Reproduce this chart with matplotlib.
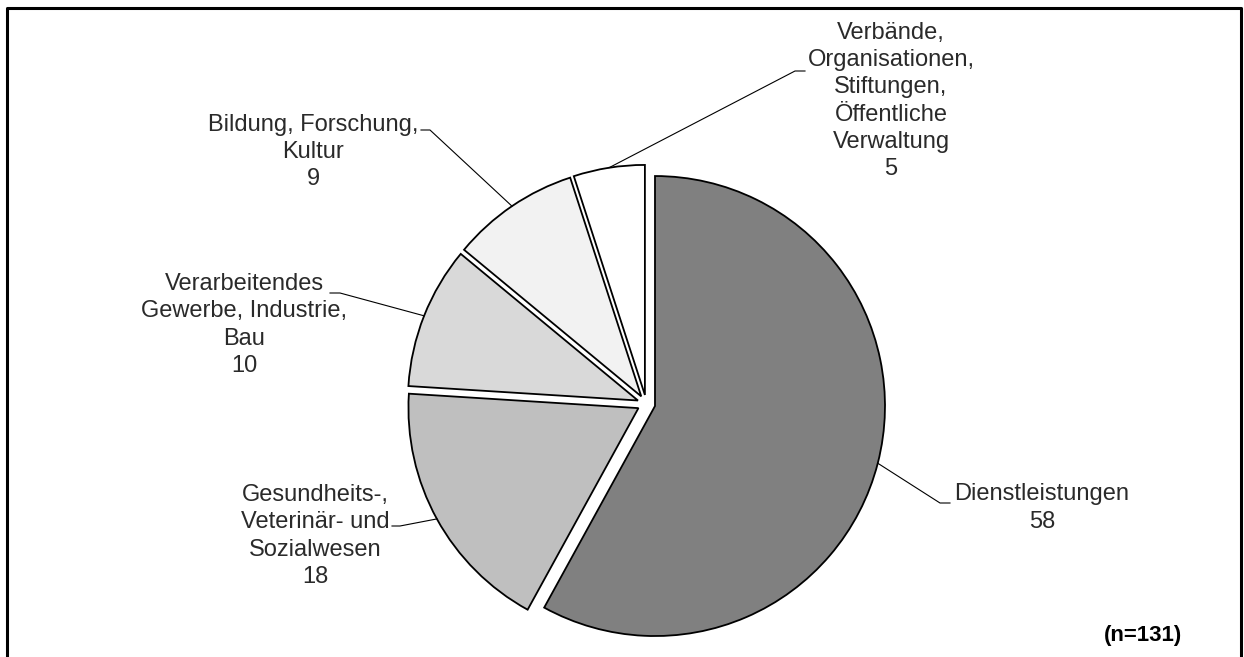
import matplotlib.pyplot as plt
from matplotlib.lines import Line2D
import numpy as np

plt.rcParams['font.family'] = ['Liberation Sans', 'DejaVu Sans']

# Branchenverteilung in Prozent
labels = ['Dienstleistungen',
          'Gesundheits-,\nVeterinär- und\nSozialwesen',
          'Verarbeitendes\nGewerbe, Industrie,\nBau',
          'Bildung, Forschung,\nKultur',
          'Verbände,\nOrganisationen,\nStiftungen,\nÖffentliche\nVerwaltung']
values = [58, 18, 10, 9, 5]
colors = ['#808080', '#bfbfbf', '#d9d9d9', '#f2f2f2', '#ffffff']
n_total = 131

W, H = 1244, 657
R_PX = 230.0            # Radius in Pixel
CX, CY = 646.3, 403.8   # Kreismittelpunkt in Pixel (y von oben)


def px2d(px, py):
    return (px - CX) / R_PX, (CY - py) / R_PX


fig = plt.figure(figsize=(W / 100, H / 100), dpi=100)
ax = fig.add_axes([0, 0, 1, 1])

explode = [0.039] * len(values)
wedges, _ = ax.pie(values, startangle=90, counterclock=False, colors=colors,
                   explode=explode, radius=1.0,
                   wedgeprops=dict(edgecolor='black', linewidth=1.3))

x0, y0 = px2d(0, H)
x1, y1 = px2d(W, 0)
ax.set_xlim(x0, x1)
ax.set_ylim(y0, y1)
ax.axis('off')

# Beschriftung: Textmitte, Knick der Führungslinie, Ende der Führungslinie
label_pos = [(1042, 508), (315, 536), (244, 325), (313, 152), (891, 101)]
elbows = [((940, 503), (950, 503)),
          ((400, 526), (392, 526)),
          ((340, 293), (330, 293)),
          ((430, 130), (421, 130)),
          ((795, 71), (805, 71))]

for w, lab, v, (tx, ty), (e1, e2) in zip(wedges, labels, values, label_pos, elbows):
    ang = np.deg2rad((w.theta1 + w.theta2) / 2)
    cx, cy = w.center
    sx, sy = cx + w.r * np.cos(ang), cy + w.r * np.sin(ang)
    ex1, ey1 = px2d(*e1)
    ex2, ey2 = px2d(*e2)
    ax.plot([sx, ex1, ex2], [sy, ey1, ey2], color='black', lw=0.8)
    ax.text(*px2d(tx, ty), f'{lab}\n{v}', ha='center', va='center',
            fontsize=17, linespacing=1.31, color='#2a2a2a')

ax.text(*px2d(1182, 636), f'(n={n_total})', ha='right', va='center',
        fontsize=16, fontweight='bold')

# Rahmen (unten offen)
fx = lambda p: p / W
fy = lambda p: 1 - p / H
frame = dict(color='black', lw=2.2, transform=fig.transFigure)
fig.add_artist(Line2D([fx(7), fx(7), fx(1241), fx(1241)],
                      [0, fy(8), fy(8), 0], **frame))

fig.savefig('out.png', dpi=100)
